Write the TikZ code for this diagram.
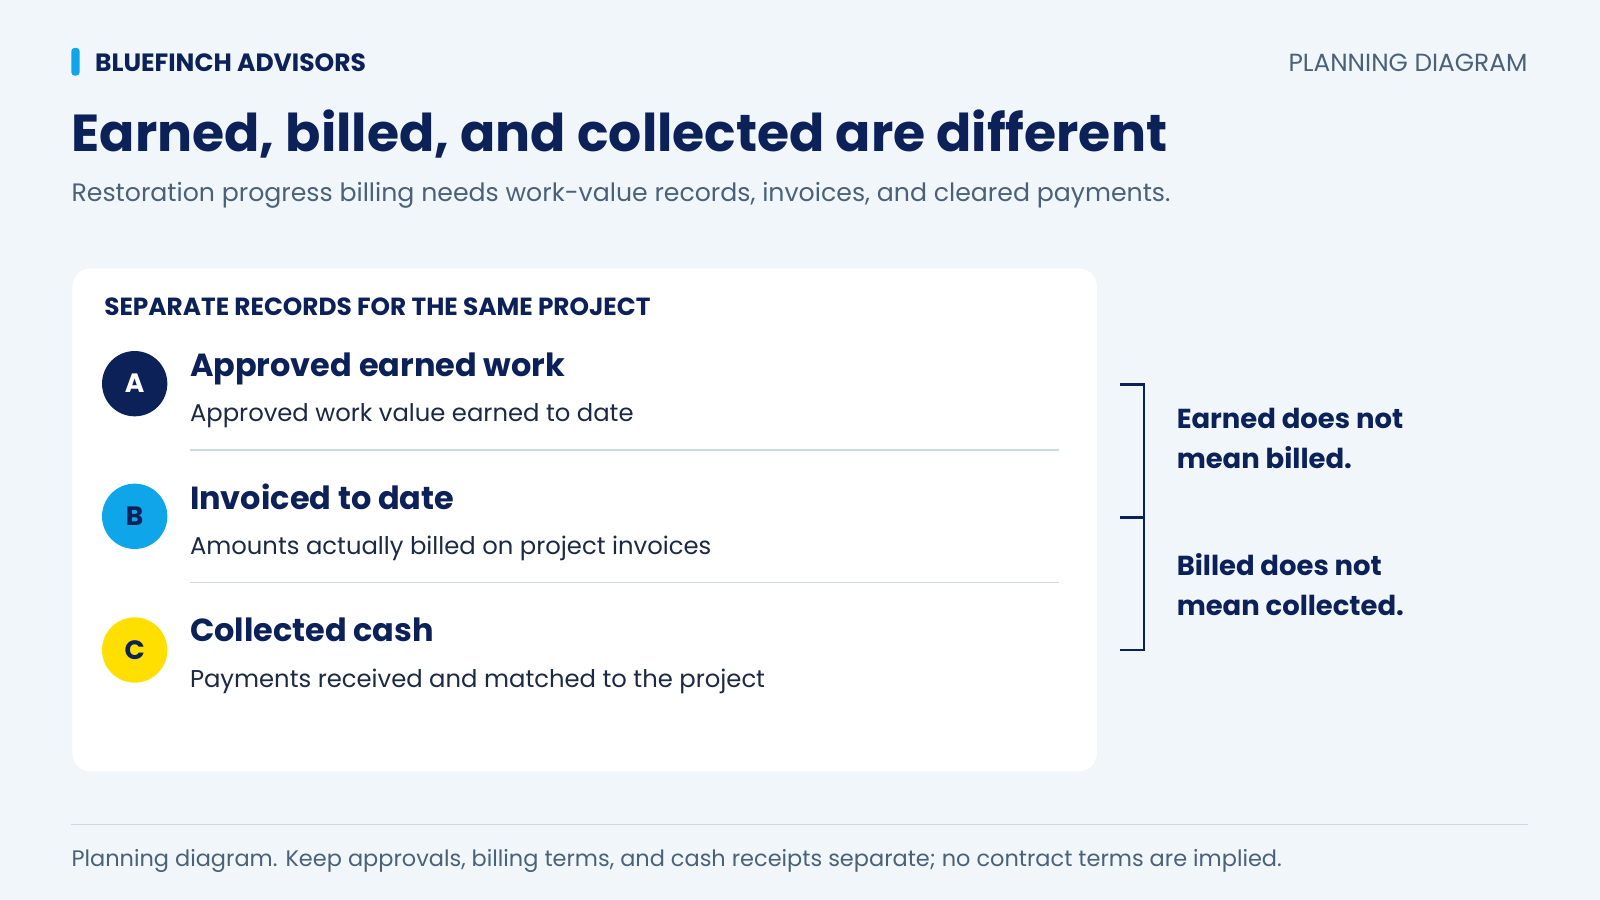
\documentclass[tikz,border=0pt]{standalone}
\usepackage{fontspec}
\setmainfont{Poppins}
\definecolor{bg}{HTML}{F1F6FB}
\definecolor{navy}{HTML}{0B2158}
\definecolor{sky}{HTML}{0EA5E9}
\definecolor{sun}{HTML}{FFDF00}
\definecolor{slate}{HTML}{4A6178}
\definecolor{ink}{HTML}{1C2942}
\definecolor{rule}{HTML}{CBD9E6}
\tikzset{
  txt/.style={inner sep=0pt, anchor=base west},
  badge/.style={circle, minimum size=64pt, inner sep=0pt, font=\fontsize{26}{26}\selectfont\bfseries},
  heading/.style={txt, text=navy, font=\fontsize{31.3}{31.3}\selectfont\bfseries},
  desc/.style={txt, text=ink, font=\fontsize{23.8}{23.8}\selectfont},
  note/.style={txt, text=navy, font=\fontsize{26.9}{26.9}\selectfont\bfseries},
  sep/.style={draw=rule, line width=1.5pt},
  brk/.style={draw=navy, line width=2.5pt}
}
\begin{document}
\begin{tikzpicture}[x=1pt,y=-1pt]
\useasboundingbox (0,0) rectangle (1568,882);
\fill[bg] (0,0) rectangle (1568,882);
% header
\fill[sky, rounded corners=3pt] (70,47) rectangle (78,74);
\node[txt, text=navy, font=\fontsize{24.5}{24.5}\selectfont\bfseries] (brand) at (93,70) {BLUEFINCH ADVISORS};
\node[txt, anchor=base east, text=slate, font=\fontsize{24.3}{24.3}\selectfont] (kind) at (1497,70) {PLANNING DIAGRAM};
\node[txt, text=navy, font=\fontsize{51}{51}\selectfont\bfseries] (title) at (70,148) {Earned, billed, and collected are different};
\node[txt, text=slate, font=\fontsize{24.7}{24.7}\selectfont] (sub) at (70,197) {Restoration progress billing needs work-value records, invoices, and cleared payments.};
% card
\fill[white, rounded corners=18pt] (71,263) rectangle (1075,756);
\node[txt, text=navy, font=\fontsize{24.3}{24.3}\selectfont\bfseries] (sec) at (102,309) {SEPARATE RECORDS FOR THE SAME PROJECT};
% items
\node[badge, fill=navy, text=white] (ca) at (132,376) {A};
\node[heading] (ha) at (186,369) {Approved earned work};
\node[desc] (da) at (186,413) {Approved work value earned to date};
\draw[sep] (186,441) -- (1038,441);
\node[badge, fill=sky, text=navy] (cb) at (132,506) {B};
\node[heading] (hb) at (186,499) {Invoiced to date};
\node[desc] (db) at (186,543) {Amounts actually billed on project invoices};
\draw[sep] (186,571) -- (1038,571);
\node[badge, fill=sun, text=navy] (cc) at (132,637) {C};
\node[heading] (hc) at (186,629) {Collected cash};
\node[desc] (dc) at (186,674) {Payments received and matched to the project};
% bracket
\draw[brk] (1098,377) -- (1121,377) -- (1121,637) -- (1098,637);
\draw[brk] (1098,507) -- (1121,507);
\node[note] (n1) at (1153,420) {Earned does not};
\node[note] (n2) at (1153,459) {mean billed.};
\node[note] (n3) at (1153,564) {Billed does not};
\node[note] (n4) at (1153,603) {mean collected.};
% footer
\draw[sep] (70,808) -- (1497,808);
\node[txt, text=slate, font=\fontsize{22}{22}\selectfont] (foot) at (70,849) {Planning diagram. Keep approvals, billing terms, and cash receipts separate; no contract terms are implied.};
\end{tikzpicture}
\end{document}
